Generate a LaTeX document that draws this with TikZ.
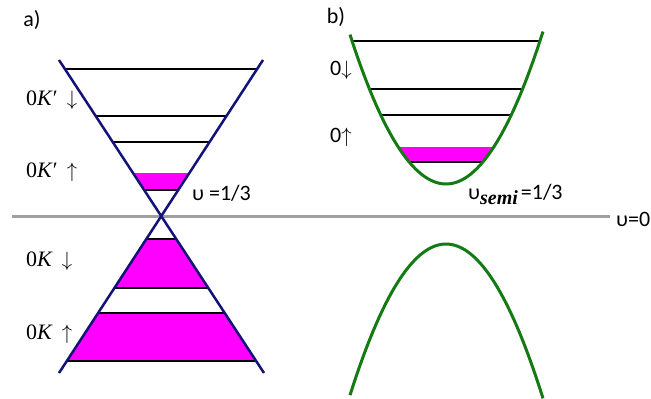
\documentclass[tikz,border=0pt]{standalone}
\usepackage{fontspec}
\setmainfont{Carlito}
\newfontfamily\serf{Liberation Serif}
\definecolor{conecol}{RGB}{18,18,120}
\definecolor{parcol}{RGB}{20,122,20}
\definecolor{magcol}{RGB}{255,0,255}
\definecolor{axcol}{RGB}{160,160,160}
\begin{document}
\begin{tikzpicture}[x=1pt,y=-1pt,
  lvl/.style={black,line width=2pt},
  conel/.style={conecol,line width=2.5pt},
  parl/.style={parcol,line width=3pt},
  lab/.style={font=\fontsize{22}{24}\selectfont,inner sep=0pt},
  serlab/.style={font=\fontsize{22}{24}\selectfont\serf,inner sep=0pt,anchor=west}]
\useasboundingbox (0,0) rectangle (651,399);
% axis
\draw[axcol,line width=3pt] (12,216) -- (610,216);
% upper cone contents
\begin{scope}
\clip (59,60) -- (263,60) -- (161,215) -- cycle;
\fill[magcol] (40,173) rectangle (280,190);
\foreach \yy in {69,116,142,190} \draw[lvl] (40,\yy) -- (280,\yy);
\end{scope}
% lower cone contents
\begin{scope}
\clip (161,215) -- (59,373) -- (264,373) -- cycle;
\fill[magcol] (40,239) rectangle (280,288);
\fill[magcol] (40,313) rectangle (280,361);
\foreach \yy in {239,288,313,361} \draw[lvl] (40,\yy) -- (280,\yy);
\end{scope}
% cone edges
\coordinate (c1) at (59,60);
\coordinate (c2) at (263,60);
\coordinate (c3) at (59,373);
\coordinate (c4) at (264,373);
\draw[conel] (c1) -- (c4);
\draw[conel] (c2) -- (c3);
% upper parabola contents
\begin{scope}
\clip plot[domain=350:543,samples=60] (\x,{184-0.0162*(\x-446)*(\x-446)}) -- cycle;
\fill[magcol] (340,147) rectangle (560,162);
\foreach \yy in {41,89,115,162} \draw[lvl] (340,\yy) -- (560,\yy);
\end{scope}
\draw[parl] plot[domain=350:543,samples=60] (\x,{184-0.0162*(\x-446)*(\x-446)});
% lower parabola
\draw[parl] plot[domain=350:543,samples=60] (\x,{244+0.0164*(\x-446)*(\x-446)});
% labels
\node[lab] (la) at (32,20) {a)};
\node[lab] (lb) at (336,17) {b)};
\node[serlab] (k1) at (26,100) {0\textit{K}′ \,$\downarrow$};
\node[serlab] (k2) at (26,172) {0\textit{K}′ \,$\uparrow$};
\node[serlab] (k3) at (26,261) {0\textit{K} \,$\downarrow$};
\node[serlab] (k4) at (26,334) {0\textit{K} \,$\uparrow$};
\node[lab,anchor=west] (z1) at (330,70) {0$\downarrow$};
\node[lab,anchor=west] (z2) at (330,137) {0$\uparrow$};
\node[lab,anchor=west] (nu1) at (192,193) {υ\kern5pt=1/3};
\node[lab,anchor=base west] (nu2) at (468,199) {υ\raisebox{-5pt}{\fontsize{20}{22}\selectfont\serf\bfseries\itshape semi}\kern3pt=1/3};
\node[lab,anchor=west] (nu0) at (616,219) {υ=0};
\end{tikzpicture}
\end{document}
